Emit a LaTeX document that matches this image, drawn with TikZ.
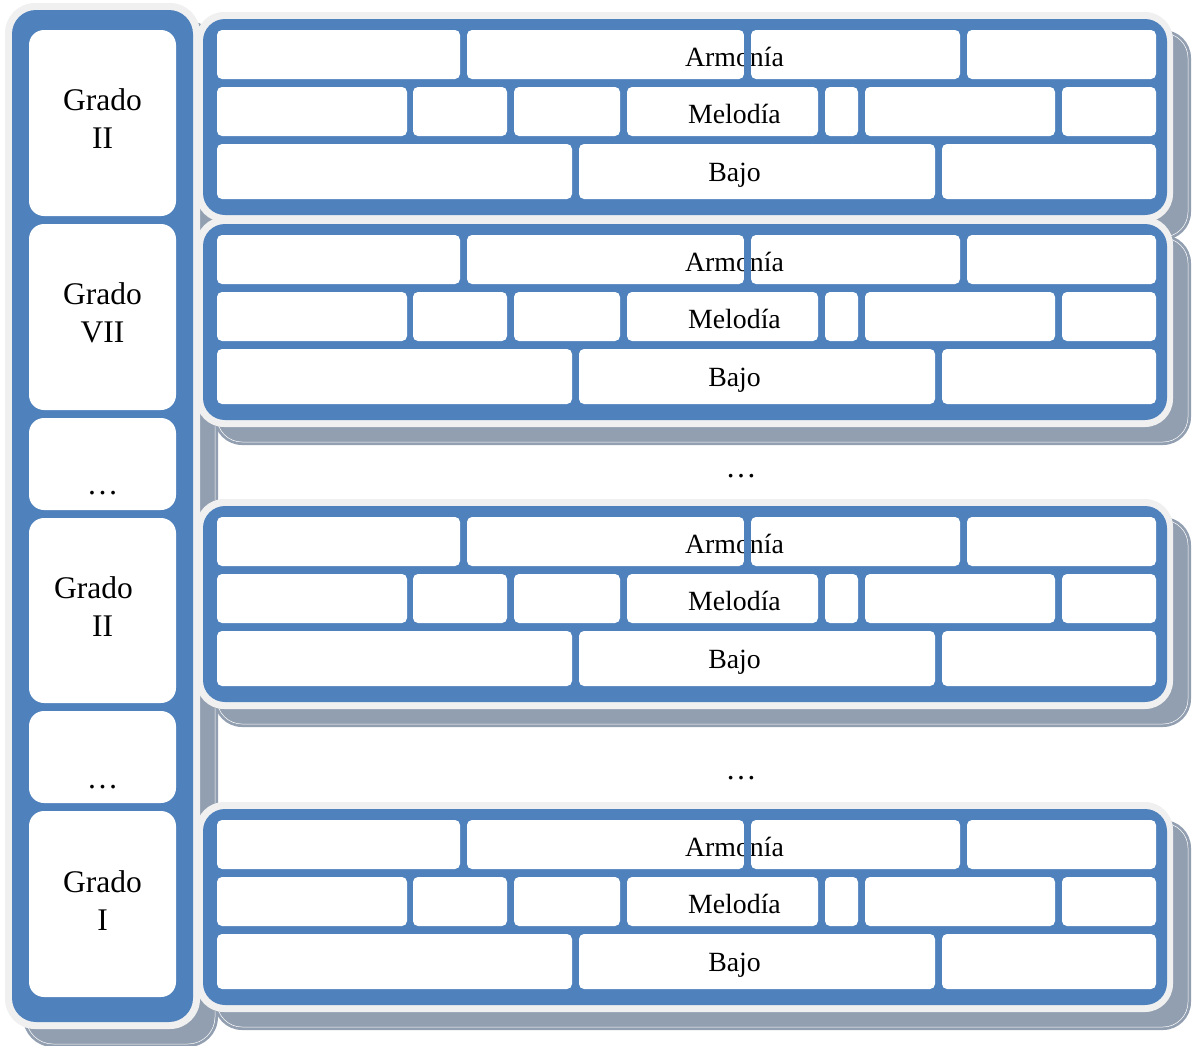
\documentclass[tikz,border=0pt]{standalone}
\usepackage{fontspec}
\setmainfont{Liberation Serif}
\definecolor{cblue}{RGB}{79,129,189}
\definecolor{clight}{RGB}{240,240,240}
\definecolor{cshadow}{RGB}{146,159,176}
\tikzset{
  shadowfill/.style={fill=cshadow},
  shadowline/.style={draw=white, line width=0.5bp},
  lightfill/.style={fill=clight},
  bluefill/.style={fill=cblue},
  cell/.style={fill=white, rounded corners=5bp},
  leftcell/.style={fill=white, rounded corners=15bp},
  lefttext/.style={anchor=base, inner sep=0pt, font=\fontsize{31.5bp}{38bp}\selectfont},
  righttext/.style={anchor=base, inner sep=0pt, font=\fontsize{27.8bp}{33bp}\selectfont},
  dotstext/.style={anchor=base, inner sep=0pt, font=\fontsize{31bp}{38bp}\selectfont},
}
\begin{document}
\begin{tikzpicture}[x=1bp,y=-1bp]
\useasboundingbox (0,0) rectangle (1193,1046);
% ---- shadows ----
\fill[shadowfill, rounded corners=30bp] (23,21) rectangle (218,1047);
\draw[shadowline, rounded corners=27bp] (26,24) rectangle (215,1044);
\foreach \o in {0,205,487,790}{
  \begin{scope}[shift={(0,\o)}]
    \fill[shadowfill, rounded corners=28bp] (214,30) rectangle (1191,240);
    \draw[shadowline, rounded corners=25bp] (217,33) rectangle (1188,237);
  \end{scope}
}
% ---- left column ----
\fill[lightfill, rounded corners=30bp] (5,3) rectangle (200,1029);
\fill[bluefill, rounded corners=24bp] (12,10) rectangle (193,1022);
\foreach \a/\b in {30/216, 224/410, 418/510, 518/703, 711/803, 811/997}{
  \fill[leftcell] (29,\a) rectangle (176,\b);
}
\node[lefttext] (g1a) at (102.5,110) {Grado};
\node[lefttext] (g1b) at (102.5,148) {II};
\node[lefttext] (g2a) at (102.5,304) {Grado};
\node[lefttext] (g2b) at (102.5,342) {VII};
\node[lefttext] (d1) at (102.5,494) {…};
\node[lefttext] (g3a) at (93.5,598) {Grado};
\node[lefttext] (g3b) at (102.5,636) {II};
\node[lefttext] (d2) at (102.5,788) {…};
\node[lefttext] (g4a) at (102.5,892) {Grado};
\node[lefttext] (g4b) at (102.5,930) {I};
% ---- right blocks ----
\foreach \o in {0,205,487,790}{
  \begin{scope}[shift={(0,\o)}]
    \fill[lightfill, rounded corners=28bp] (196,12) rectangle (1173,222);
    \fill[bluefill, rounded corners=22bp] (203,19) rectangle (1167,215);
    \foreach \a/\b in {217/460, 467/744, 751/960, 967/1156}{
      \fill[cell] (\a,30) rectangle (\b,79);
    }
    \foreach \a/\b in {217/407, 413/507, 514/620, 627/818, 825/858, 865/1055, 1062/1156}{
      \fill[cell] (\a,87) rectangle (\b,136);
    }
    \foreach \a/\b in {217/572, 579/935, 942/1156}{
      \fill[cell] (\a,144) rectangle (\b,199);
    }
    \node[righttext] (arm\o) at (734.5,66) {Armonía};
    \fill[bluefill] (744,30) rectangle (751,79);
    \node[righttext] (mel\o) at (734.5,123) {Melodía};
    \node[righttext] (baj\o) at (734.5,181) {Bajo};
  \end{scope}
}
\node[dotstext] (m1) at (741,477) {…};
\node[dotstext] (m2) at (741,779) {…};
\end{tikzpicture}
\end{document}
